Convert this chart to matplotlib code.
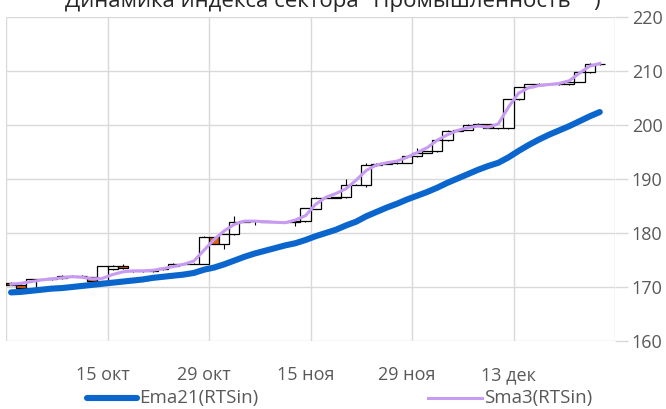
import matplotlib
matplotlib.use("Agg")
import matplotlib.pyplot as plt
from matplotlib.patches import Rectangle
from matplotlib.lines import Line2D
import numpy as np

# ---- data ----
tick_labels = ["15 окт", "29 окт", "15 ноя", "29 ноя", "13 дек"]
tick_index = [9, 19, 29, 39, 49]

opens = [170.8, 170.4, 169.8, 171.4, 171.4, 171.6, 172.1, 172.1, 171.8, 171.1,
         173.3, 173.8, 172.9, 172.9, 172.9, 173.3, 173.8, 174.3, 174.3, 174.3,
         179.2, 178.0, 179.8, 182.1, 182.2, 182.2, 182.1, 182.1, 182.0, 182.2,
         184.5, 186.5, 186.5, 186.6, 188.9, 188.9, 192.6, 192.8, 192.9, 193.0,
         194.2, 194.9, 195.1, 197.2, 198.9, 199.1, 200.0, 200.2, 199.4, 199.4,
         204.8, 207.0, 207.5, 207.6, 207.6, 207.6, 208.0, 209.8, 211.3]
closes = [170.4, 169.8, 171.4, 171.4, 171.6, 172.1, 172.1, 172.0, 171.2, 173.8,
          173.9, 173.5, 172.9, 172.9, 173.1, 173.6, 174.3, 174.3, 174.3, 179.3,
          178.0, 179.8, 182.1, 182.2, 182.2, 182.1, 182.1, 182.1, 182.3, 184.6,
          186.5, 186.5, 186.6, 188.9, 188.9, 192.6, 192.8, 192.9, 193.0, 194.2,
          194.9, 195.1, 197.2, 198.9, 199.1, 200.0, 200.2, 199.5, 199.4, 204.8,
          207.0, 207.5, 207.6, 207.6, 207.6, 208.0, 209.8, 211.3, 211.3]
highs = [170.9, 170.5, 171.5, 171.5, 171.7, 172.2, 172.2, 172.2, 171.9, 173.9,
         174.0, 174.2, 173.0, 173.0, 173.2, 173.7, 174.4, 174.4, 174.4, 179.4,
         179.3, 179.9, 183.1, 182.3, 182.3, 182.2, 182.2, 182.2, 182.4, 184.7,
         186.6, 186.6, 186.7, 190.0, 189.0, 193.0, 192.9, 193.0, 193.1, 194.3,
         195.7, 195.2, 197.3, 199.0, 199.2, 200.1, 200.3, 200.2, 199.5, 204.9,
         207.1, 207.6, 207.7, 207.7, 207.7, 208.1, 209.9, 211.4, 211.4]
lows = [170.3, 169.7, 169.7, 171.3, 171.3, 171.5, 172.0, 171.9, 171.1, 171.0,
        173.2, 173.4, 172.8, 172.8, 172.8, 173.2, 173.7, 174.2, 174.2, 174.2,
        177.9, 177.1, 179.7, 182.0, 181.5, 182.0, 182.0, 182.0, 181.3, 182.1,
        184.4, 186.4, 186.4, 186.5, 188.8, 188.5, 192.5, 192.7, 192.8, 192.9,
        194.1, 194.8, 195.0, 197.1, 198.8, 199.0, 199.9, 199.4, 199.3, 199.3,
        204.7, 206.9, 207.4, 207.5, 207.5, 207.5, 207.9, 209.7, 211.2]

ema21 = [169.0, 169.1, 169.3, 169.5, 169.7, 169.8, 170.0, 170.2, 170.4, 170.6,
         170.8, 171.0, 171.2, 171.4, 171.7, 171.9, 172.1, 172.3, 172.6, 173.2,
         173.6, 174.2, 174.9, 175.6, 176.2, 176.7, 177.2, 177.7, 178.1, 178.7,
         179.4, 180.0, 180.6, 181.4, 182.1, 183.1, 183.9, 184.7, 185.4, 186.2,
         186.9, 187.6, 188.4, 189.3, 190.1, 190.9, 191.7, 192.4, 193.0, 194.0,
         195.2, 196.3, 197.3, 198.2, 199.0, 199.8, 200.7, 201.6, 202.4]
sma3 = [170.5, 170.7, 171.0, 171.3, 171.5, 171.7, 171.9, 171.8, 171.5, 171.6,
        172.3, 172.8, 173.0, 173.0, 173.1, 173.4, 173.8, 174.2, 174.8, 176.8,
        178.8, 180.4, 181.6, 182.2, 182.2, 182.1, 182.0, 181.9, 182.4, 183.2,
        185.3, 186.6, 187.3, 188.2, 189.8, 191.6, 192.6, 193.0, 193.3, 194.0,
        194.9, 195.8, 197.2, 198.2, 199.0, 199.5, 199.8, 199.6, 200.2, 203.3,
        205.9, 206.9, 207.3, 207.5, 207.7, 208.2, 209.6, 210.9, 211.4]

title = 'Динамика индекса сектора "Промышленность" ")'
ema_label = "Ema21(RTSin)"
sma_label = "Sma3(RTSin)"

# ---- figure ----
plt.rcParams['font.family'] = ['Open Sans', 'DejaVu Sans']
fig = plt.figure(figsize=(6.66, 4.09), dpi=100)
ax = fig.add_axes([6/666, 1-341/409, 609/666, 324/409])

n = len(closes)
x = np.arange(n)
ax.set_xlim(-0.5, 59.5)
ax.set_ylim(160, 220)

grid_c = '#D9D9D9'
for v in range(160, 221, 10):
    ax.axhline(v, color=grid_c, lw=1.0, zorder=0)
for b in [-0.5, 9.5, 19.5, 29.5, 39.5, 49.5, 59.5]:
    ax.axvline(b, color=grid_c, lw=1.0, zorder=0)

w = 1.0
for i in range(n):
    o, c, h, l = opens[i], closes[i], highs[i], lows[i]
    up = c >= o
    lo, hi = min(o, c), max(o, c)
    ax.vlines(x[i], l, h, color='black', lw=0.8, zorder=2)
    ax.add_patch(Rectangle((x[i]-w/2, lo), w, max(hi-lo, 0.02),
                           facecolor='white' if up else '#E2620F',
                           edgecolor='black', lw=0.9, zorder=3))

ax.plot(x, ema21, color='#0A66CC', lw=4.4, solid_capstyle='round', zorder=4)
ax.plot(x, sma3, color='#C89BF2', lw=2.2, zorder=5)

for s in ax.spines.values():
    s.set_visible(False)

txt_c = '#595959'
fs = 13
ax.yaxis.tick_right()
ax.set_yticks(range(160, 221, 10))
ax.tick_params(axis='y', which='both', length=9, width=1, color=grid_c,
               labelcolor=txt_c, labelsize=fs, pad=3)
ax.set_xticks(tick_index)
ax.set_xticklabels(tick_labels)
ax.tick_params(axis='x', length=0, labelcolor=txt_c, labelsize=fs, pad=18)

fig.text(333/666, 1-7/409, title, ha='center', va='baseline', fontsize=16, color='#262626')

# legend
ly = 1-398/409
fig.lines.append(Line2D([87/666, 137/666], [ly]*2, color='#0A66CC', lw=4.4,
                        solid_capstyle='round', transform=fig.transFigure))
fig.text(139/666, ly, ema_label, ha='left', va='center', fontsize=13.5, color=txt_c)
fig.lines.append(Line2D([428/666, 482/666], [ly]*2, color='#C89BF2', lw=2.2,
                        transform=fig.transFigure))
fig.text(484/666, ly, sma_label, ha='left', va='center', fontsize=13.5, color=txt_c)

fig.savefig('out.png', dpi=100)
